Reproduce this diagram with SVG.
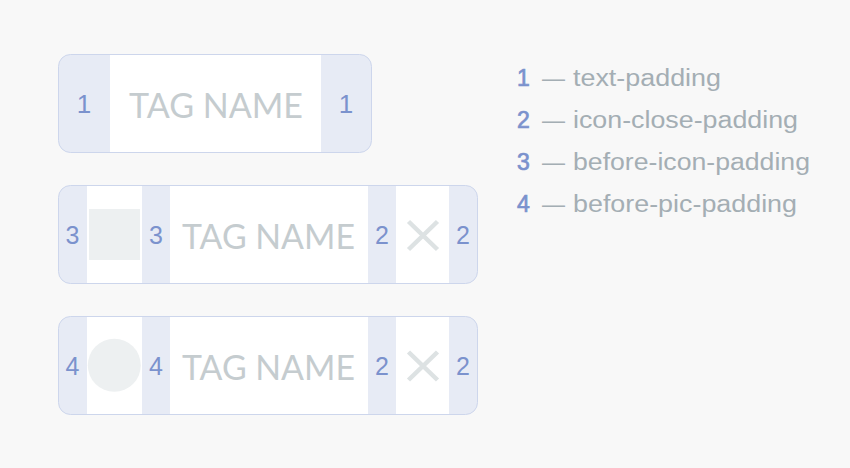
<svg xmlns="http://www.w3.org/2000/svg" width="850" height="468" viewBox="0 0 850 468">
<style>
.bg{fill:#f8f8f8}
.tag{fill:#e7ebf5}
.border{fill:none;stroke:#cdd6ec;stroke-width:1}
.white{fill:#ffffff}
.num{font-family:"Liberation Sans",Arial,sans-serif;font-size:25px;fill:#7b92cd;text-anchor:middle}
.num1{font-size:26px}
.name{font-family:Lato,"Open Sans",sans-serif;font-size:34px;fill:#c5cccf;text-anchor:middle}
.icon{fill:#edf0f1}
.x{stroke:#dde2e3;stroke-width:4.5;stroke-linecap:butt;fill:none}
.lnum{font-family:"Liberation Sans",Arial,sans-serif;font-size:23px;fill:#7b92cd;stroke:#7b92cd;stroke-width:0.7}
.ltxt{font-family:"Liberation Sans",Arial,sans-serif;font-size:23px;fill:#a4aeb4}
</style>
<rect class="bg" x="0" y="0" width="850" height="468"/>

<g id="tag-text">
  <rect class="tag" x="58.5" y="54.5" width="313" height="98" rx="12"/>
  <rect class="white" x="110" y="55" width="211" height="97"/>
  <rect class="border" x="58.5" y="54.5" width="313" height="98" rx="12"/>
  <text class="num num1" x="84" y="113">1</text>
  <text class="name" x="216" y="117.5" textLength="174" lengthAdjust="spacingAndGlyphs">TAG NAME</text>
  <text class="num num1" x="346" y="113">1</text>
</g>

<g id="tag-icon">
  <rect class="tag" x="58.5" y="185.5" width="419" height="98" rx="12"/>
  <rect class="white" x="87" y="186" width="55" height="97"/>
  <rect class="white" x="170" y="186" width="198" height="97"/>
  <rect class="white" x="396" y="186" width="53" height="97"/>
  <rect class="border" x="58.5" y="185.5" width="419" height="98" rx="12"/>
  <text class="num" x="72.5" y="243.5">3</text>
  <rect class="icon" x="89" y="209" width="51" height="51"/>
  <text class="num" x="156" y="243.5">3</text>
  <text class="name" x="268.5" y="249" textLength="173" lengthAdjust="spacingAndGlyphs">TAG NAME</text>
  <text class="num" x="382" y="243.5">2</text>
  <path class="x" d="M408.5 221.5 L437.5 249.5 M437.5 221.5 L408.5 249.5"/>
  <text class="num" x="463" y="243.5">2</text>
</g>

<g id="tag-pic">
  <rect class="tag" x="58.5" y="316.5" width="419" height="98" rx="12"/>
  <rect class="white" x="87" y="317" width="55" height="97"/>
  <rect class="white" x="170" y="317" width="198" height="97"/>
  <rect class="white" x="396" y="317" width="53" height="97"/>
  <rect class="border" x="58.5" y="316.5" width="419" height="98" rx="12"/>
  <text class="num" x="72.5" y="374.5">4</text>
  <circle class="icon" cx="114.3" cy="365.3" r="26.5"/>
  <text class="num" x="156" y="374.5">4</text>
  <text class="name" x="268.5" y="380" textLength="173" lengthAdjust="spacingAndGlyphs">TAG NAME</text>
  <text class="num" x="382" y="374.5">2</text>
  <path class="x" d="M408.5 352 L437.5 380 M437.5 352 L408.5 380"/>
  <text class="num" x="463" y="374.5">2</text>
</g>

<g id="legend">
  <text class="lnum" x="517" y="86">1</text>
  <text class="ltxt" x="542" y="86">—</text>
  <text class="ltxt" x="573" y="86" textLength="148" lengthAdjust="spacingAndGlyphs">text-padding</text>
  <text class="lnum" x="517" y="128">2</text>
  <text class="ltxt" x="542" y="128">—</text>
  <text class="ltxt" x="573" y="128" textLength="225" lengthAdjust="spacingAndGlyphs">icon-close-padding</text>
  <text class="lnum" x="517" y="170">3</text>
  <text class="ltxt" x="542" y="170">—</text>
  <text class="ltxt" x="573" y="170" textLength="237" lengthAdjust="spacingAndGlyphs">before-icon-padding</text>
  <text class="lnum" x="517" y="212">4</text>
  <text class="ltxt" x="542" y="212">—</text>
  <text class="ltxt" x="573" y="212" textLength="224" lengthAdjust="spacingAndGlyphs">before-pic-padding</text>
</g>
</svg>
